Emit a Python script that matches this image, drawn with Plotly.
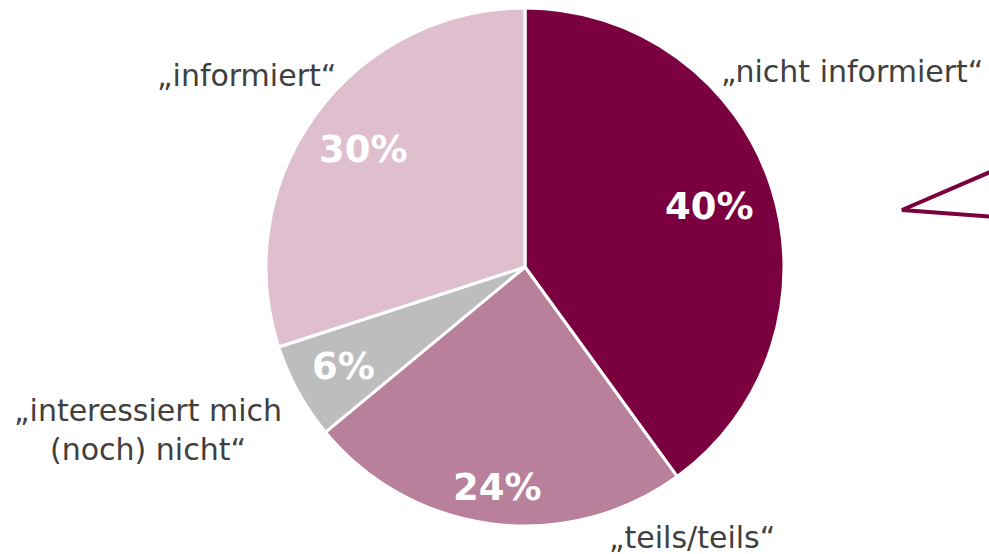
import math
import plotly.graph_objects as go

categories = ["„nicht informiert“", "„teils/teils“", "„interessiert mich<br>(noch) nicht“", "„informiert“"]
values = [40, 24, 6, 30]
colors = ["#7A003F", "#B8809B", "#BDBDBD", "#DFBFCE"]

W, H = 989, 554
# pie geometry in pixels
CX, CY, R = 525, 267, 259

fig = go.Figure(go.Pie(
    labels=categories,
    values=values,
    sort=False,
    direction="clockwise",
    rotation=0,
    marker=dict(colors=colors, line=dict(color="white", width=3)),
    textinfo="none",
    hoverinfo="label+percent",
    showlegend=False,
    domain=dict(x=[(CX - R) / W, (CX + R) / W], y=[1 - (CY + R) / H, 1 - (CY - R) / H]),
))

# percentage labels placed at slice mid-angles
radial_frac = [0.75, 0.86, 0.80, 0.77]
total = sum(values)
cum = 0
for v, rf in zip(values, radial_frac):
    mid = (cum + v / 2) / total * 2 * math.pi
    cum += v
    px = CX + rf * R * math.sin(mid)
    py = CY - rf * R * math.cos(mid)
    fig.add_annotation(x=px / W, y=1 - py / H, xref="paper", yref="paper",
                       text=f"{round(v / total * 100)}%", showarrow=False,
                       xanchor="center", yanchor="middle",
                       font=dict(family="DejaVu Sans", size=37, color="white", weight="bold"))

label_font = dict(family="DejaVu Sans", size=30, color="#404040")
label_pos = [
    (985, 72, "right"),
    (692, 537, "center"),
    (148, 430, "center"),
    (246, 75, "center"),
]
for cat, (px, py, anchor) in zip(categories, label_pos):
    fig.add_annotation(x=px / W, y=1 - py / H, xref="paper", yref="paper",
                       text=cat, showarrow=False, xanchor=anchor, yanchor="middle",
                       font=label_font, align="center")

fig.add_shape(type="path", xref="paper", yref="paper",
              path=f"M {1.02} {1 - 164/H} L {902/W} {1 - 210/H} L {1.02} {1 - 218/H}",
              line=dict(color="#7A003F", width=4), fillcolor="white")

fig.update_layout(width=W, height=H, margin=dict(l=0, r=0, t=0, b=0),
                  paper_bgcolor="white", plot_bgcolor="white")
fig.write_html("out.html", config={"displayModeBar": False},
               post_script="document.body.style.margin='0';")
